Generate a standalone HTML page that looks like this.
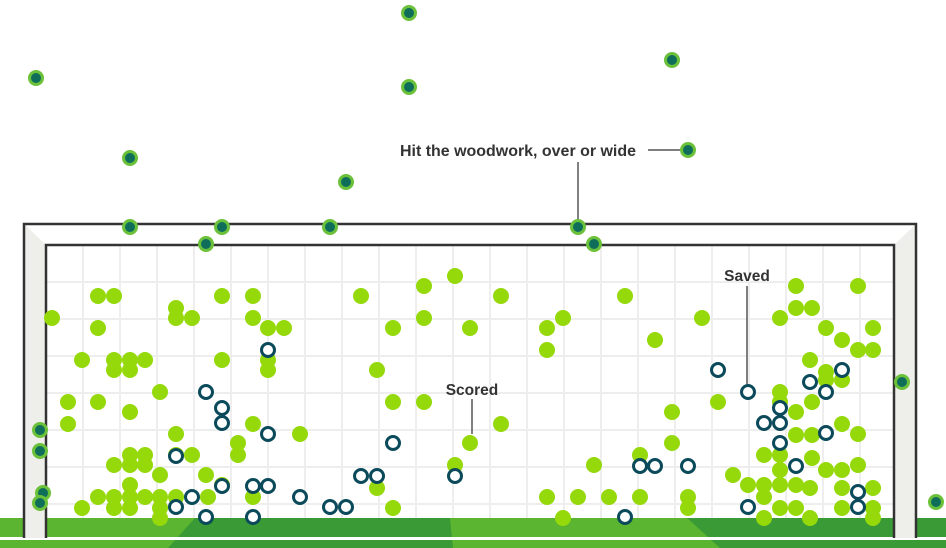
<!DOCTYPE html>
<html><head><meta charset="utf-8"><style>
html,body{margin:0;padding:0;background:#fff;}
svg{display:block;font-family:"Liberation Sans",Arial,sans-serif;}
</style></head><body>
<svg width="946" height="548" viewBox="0 0 946 548" xmlns="http://www.w3.org/2000/svg">
<rect x="0" y="518" width="946" height="30" fill="#3a9a36"/>
<polygon points="0,518 195,518 168,548 0,548" fill="#5cb531"/>
<polygon points="450,518 687,518 720,548 453,548" fill="#5cb531"/>
<rect x="0" y="537" width="946" height="3" fill="#fff"/>
<rect x="24" y="224" width="22" height="314" fill="#eeeeea"/>
<polygon points="24,224 46,245 46,224" fill="#fff"/>
<rect x="894" y="224" width="22" height="314" fill="#eeeeea"/>
<polygon points="916,224 894,245 894,224" fill="#fff"/>
<rect x="46" y="245" width="848" height="273" fill="#fff"/>
<g stroke="#eeeeee" stroke-width="2">
<line x1="83" y1="245" x2="83" y2="518"/><line x1="120" y1="245" x2="120" y2="518"/><line x1="157" y1="245" x2="157" y2="518"/><line x1="194" y1="245" x2="194" y2="518"/><line x1="231" y1="245" x2="231" y2="518"/><line x1="268" y1="245" x2="268" y2="518"/><line x1="305" y1="245" x2="305" y2="518"/><line x1="342" y1="245" x2="342" y2="518"/><line x1="379" y1="245" x2="379" y2="518"/><line x1="416" y1="245" x2="416" y2="518"/><line x1="453" y1="245" x2="453" y2="518"/><line x1="490" y1="245" x2="490" y2="518"/><line x1="527" y1="245" x2="527" y2="518"/><line x1="564" y1="245" x2="564" y2="518"/><line x1="601" y1="245" x2="601" y2="518"/><line x1="638" y1="245" x2="638" y2="518"/><line x1="675" y1="245" x2="675" y2="518"/><line x1="712" y1="245" x2="712" y2="518"/><line x1="749" y1="245" x2="749" y2="518"/><line x1="786" y1="245" x2="786" y2="518"/><line x1="823" y1="245" x2="823" y2="518"/><line x1="860" y1="245" x2="860" y2="518"/>
<line x1="46" y1="282" x2="894" y2="282"/><line x1="46" y1="319" x2="894" y2="319"/><line x1="46" y1="356" x2="894" y2="356"/><line x1="46" y1="393" x2="894" y2="393"/><line x1="46" y1="430" x2="894" y2="430"/><line x1="46" y1="467" x2="894" y2="467"/><line x1="46" y1="504" x2="894" y2="504"/>
</g>
<g fill="none" stroke="#333" stroke-width="2.5">
<polyline points="24,538 24,224 916,224 916,538"/>
<polyline points="46,538 46,245 894,245 894,538"/>
</g>
<g fill="#96d90b">
<circle cx="52" cy="318" r="8"/><circle cx="98" cy="296" r="8"/><circle cx="114" cy="296" r="8"/><circle cx="98" cy="328" r="8"/><circle cx="176" cy="308" r="8"/><circle cx="176" cy="318" r="8"/><circle cx="192" cy="318" r="8"/><circle cx="222" cy="296" r="8"/><circle cx="253" cy="296" r="8"/><circle cx="253" cy="318" r="8"/><circle cx="268" cy="328" r="8"/><circle cx="284" cy="328" r="8"/><circle cx="361" cy="296" r="8"/><circle cx="393" cy="328" r="8"/><circle cx="424" cy="286" r="8"/><circle cx="424" cy="318" r="8"/><circle cx="455" cy="276" r="8"/><circle cx="470" cy="328" r="8"/><circle cx="501" cy="296" r="8"/><circle cx="547" cy="328" r="8"/><circle cx="547" cy="350" r="8"/><circle cx="563" cy="318" r="8"/><circle cx="625" cy="296" r="8"/><circle cx="655" cy="340" r="8"/><circle cx="702" cy="318" r="8"/><circle cx="780" cy="318" r="8"/><circle cx="796" cy="286" r="8"/><circle cx="796" cy="308" r="8"/><circle cx="812" cy="308" r="8"/><circle cx="826" cy="328" r="8"/><circle cx="842" cy="340" r="8"/><circle cx="858" cy="286" r="8"/><circle cx="858" cy="350" r="8"/><circle cx="873" cy="328" r="8"/><circle cx="873" cy="350" r="8"/><circle cx="810" cy="360" r="8"/><circle cx="826" cy="372" r="8"/><circle cx="826" cy="380" r="8"/><circle cx="842" cy="380" r="8"/><circle cx="82" cy="360" r="8"/><circle cx="114" cy="360" r="8"/><circle cx="130" cy="360" r="8"/><circle cx="145" cy="360" r="8"/><circle cx="114" cy="370" r="8"/><circle cx="130" cy="370" r="8"/><circle cx="222" cy="360" r="8"/><circle cx="268" cy="360" r="8"/><circle cx="268" cy="370" r="8"/><circle cx="377" cy="370" r="8"/><circle cx="68" cy="402" r="8"/><circle cx="98" cy="402" r="8"/><circle cx="130" cy="412" r="8"/><circle cx="160" cy="392" r="8"/><circle cx="68" cy="424" r="8"/><circle cx="176" cy="434" r="8"/><circle cx="238" cy="443" r="8"/><circle cx="253" cy="424" r="8"/><circle cx="300" cy="434" r="8"/><circle cx="393" cy="402" r="8"/><circle cx="424" cy="402" r="8"/><circle cx="470" cy="443" r="8"/><circle cx="501" cy="424" r="8"/><circle cx="672" cy="412" r="8"/><circle cx="718" cy="402" r="8"/><circle cx="780" cy="392" r="8"/><circle cx="780" cy="402" r="8"/><circle cx="796" cy="412" r="8"/><circle cx="812" cy="402" r="8"/><circle cx="842" cy="424" r="8"/><circle cx="858" cy="434" r="8"/><circle cx="796" cy="435" r="8"/><circle cx="812" cy="435" r="8"/><circle cx="780" cy="455" r="8"/><circle cx="764" cy="455" r="8"/><circle cx="780" cy="470" r="8"/><circle cx="812" cy="458" r="8"/><circle cx="780" cy="485" r="8"/><circle cx="796" cy="485" r="8"/><circle cx="810" cy="488" r="8"/><circle cx="826" cy="470" r="8"/><circle cx="842" cy="470" r="8"/><circle cx="842" cy="488" r="8"/><circle cx="873" cy="488" r="8"/><circle cx="114" cy="465" r="8"/><circle cx="130" cy="455" r="8"/><circle cx="130" cy="465" r="8"/><circle cx="145" cy="455" r="8"/><circle cx="145" cy="465" r="8"/><circle cx="176" cy="455" r="8"/><circle cx="192" cy="455" r="8"/><circle cx="238" cy="455" r="8"/><circle cx="455" cy="465" r="8"/><circle cx="377" cy="488" r="8"/><circle cx="160" cy="475" r="8"/><circle cx="206" cy="475" r="8"/><circle cx="222" cy="485" r="8"/><circle cx="130" cy="485" r="8"/><circle cx="98" cy="497" r="8"/><circle cx="114" cy="497" r="8"/><circle cx="130" cy="497" r="8"/><circle cx="145" cy="497" r="8"/><circle cx="160" cy="497" r="8"/><circle cx="176" cy="497" r="8"/><circle cx="208" cy="497" r="8"/><circle cx="82" cy="508" r="8"/><circle cx="114" cy="508" r="8"/><circle cx="130" cy="508" r="8"/><circle cx="160" cy="508" r="8"/><circle cx="160" cy="518" r="8"/><circle cx="253" cy="497" r="8"/><circle cx="393" cy="508" r="8"/><circle cx="547" cy="497" r="8"/><circle cx="578" cy="497" r="8"/><circle cx="609" cy="497" r="8"/><circle cx="640" cy="497" r="8"/><circle cx="594" cy="465" r="8"/><circle cx="640" cy="455" r="8"/><circle cx="688" cy="497" r="8"/><circle cx="688" cy="508" r="8"/><circle cx="672" cy="443" r="8"/><circle cx="733" cy="475" r="8"/><circle cx="748" cy="485" r="8"/><circle cx="764" cy="485" r="8"/><circle cx="764" cy="497" r="8"/><circle cx="780" cy="508" r="8"/><circle cx="796" cy="508" r="8"/><circle cx="563" cy="518" r="8"/><circle cx="764" cy="518" r="8"/><circle cx="810" cy="518" r="8"/><circle cx="842" cy="508" r="8"/><circle cx="873" cy="508" r="8"/><circle cx="873" cy="518" r="8"/><circle cx="858" cy="465" r="8"/>
</g>
<g fill="#fff" stroke="#0b4a5a" stroke-width="3">
<circle cx="268" cy="350" r="6.5"/><circle cx="206" cy="392" r="6.5"/><circle cx="222" cy="408" r="6.5"/><circle cx="222" cy="423" r="6.5"/><circle cx="268" cy="434" r="6.5"/><circle cx="176" cy="456" r="6.5"/><circle cx="393" cy="443" r="6.5"/><circle cx="455" cy="476" r="6.5"/><circle cx="222" cy="486" r="6.5"/><circle cx="253" cy="486" r="6.5"/><circle cx="268" cy="486" r="6.5"/><circle cx="192" cy="497" r="6.5"/><circle cx="176" cy="507" r="6.5"/><circle cx="206" cy="517" r="6.5"/><circle cx="253" cy="517" r="6.5"/><circle cx="300" cy="497" r="6.5"/><circle cx="330" cy="507" r="6.5"/><circle cx="346" cy="507" r="6.5"/><circle cx="361" cy="476" r="6.5"/><circle cx="377" cy="476" r="6.5"/><circle cx="640" cy="466" r="6.5"/><circle cx="655" cy="466" r="6.5"/><circle cx="688" cy="466" r="6.5"/><circle cx="718" cy="370" r="6.5"/><circle cx="748" cy="392" r="6.5"/><circle cx="780" cy="408" r="6.5"/><circle cx="780" cy="423" r="6.5"/><circle cx="764" cy="423" r="6.5"/><circle cx="780" cy="443" r="6.5"/><circle cx="810" cy="382" r="6.5"/><circle cx="826" cy="392" r="6.5"/><circle cx="842" cy="370" r="6.5"/><circle cx="826" cy="433" r="6.5"/><circle cx="796" cy="466" r="6.5"/><circle cx="858" cy="492" r="6.5"/><circle cx="858" cy="507" r="6.5"/><circle cx="748" cy="507" r="6.5"/><circle cx="625" cy="517" r="6.5"/>
</g>
<g stroke="#555" stroke-width="1.5">
<line x1="648" y1="150" x2="680" y2="150"/>
<line x1="578" y1="162" x2="578" y2="222"/>
<line x1="747" y1="286" x2="747" y2="384"/>
<line x1="472" y1="399" x2="472" y2="434"/>
</g>
<g fill="#0e6e5a" stroke="#6cc13a" stroke-width="3">
<circle cx="409" cy="13" r="6.5"/><circle cx="36" cy="78" r="6.5"/><circle cx="672" cy="60" r="6.5"/><circle cx="409" cy="87" r="6.5"/><circle cx="130" cy="158" r="6.5"/><circle cx="346" cy="182" r="6.5"/><circle cx="688" cy="150" r="6.5"/><circle cx="130" cy="227" r="6.5"/><circle cx="222" cy="227" r="6.5"/><circle cx="330" cy="227" r="6.5"/><circle cx="578" cy="227" r="6.5"/><circle cx="206" cy="244" r="6.5"/><circle cx="594" cy="244" r="6.5"/><circle cx="40" cy="430" r="6.5"/><circle cx="40" cy="451" r="6.5"/><circle cx="43" cy="493" r="6.5"/><circle cx="40" cy="503" r="6.5"/><circle cx="902" cy="382" r="6.5"/><circle cx="936" cy="502" r="6.5"/>
</g>
<g fill="#333" font-weight="bold" font-size="15.5">
<text x="400" y="156" textLength="236" lengthAdjust="spacingAndGlyphs">Hit the woodwork, over or wide</text>
<text x="747" y="281" text-anchor="middle">Saved</text>
<text x="472" y="395" text-anchor="middle">Scored</text>
</g>
</svg>
</body></html>
